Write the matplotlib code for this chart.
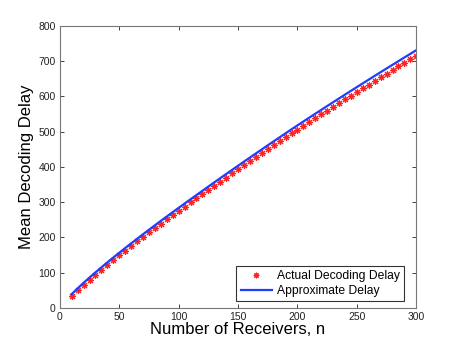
import matplotlib
matplotlib.use('Agg')
from matplotlib import pyplot as plt

plt.rcParams['font.family'] = ['Liberation Sans', 'DejaVu Sans']

receivers = [10, 15, 20, 25, 30, 35, 40, 45, 50, 55, 60, 65, 70, 75, 80, 85, 90, 95, 100,
             105, 110, 115, 120, 125, 130, 135, 140, 145, 150, 155, 160, 165, 170, 175, 180,
             185, 190, 195, 200, 205, 210, 215, 220, 225, 230, 235, 240, 245, 250, 255, 260,
             265, 270, 275, 280, 285, 290, 295, 300]

actual_delay = [33.8, 50.0, 65.4, 80.3, 94.7, 108.9, 122.7, 136.3, 149.6, 162.9, 175.9, 188.7,
                201.4, 214.1, 226.5, 238.9, 251.1, 263.4, 275.4, 287.4, 299.3, 311.3, 323.1,
                334.9, 346.6, 358.4, 370.0, 381.6, 393.1, 404.7, 416.1, 427.5, 438.8, 450.2,
                461.4, 472.6, 483.7, 494.9, 505.9, 516.8, 527.6, 538.5, 549.2, 559.9, 570.5,
                581.2, 591.8, 602.3, 612.8, 623.3, 633.7, 644.1, 654.4, 664.8, 675.0, 685.2,
                695.4, 705.6, 715.7]

approx_delay = [39.2, 55.5, 71.1, 86.2, 100.8, 115.1, 129.1, 142.9, 156.4, 169.8, 183.0, 196.0,
                208.9, 221.7, 234.3, 246.9, 259.3, 271.7, 283.9, 296.1, 308.2, 320.3, 332.3,
                344.3, 356.2, 368.1, 379.9, 391.7, 403.4, 415.1, 426.7, 438.3, 449.8, 461.3,
                472.7, 484.1, 495.4, 506.7, 517.9, 529.0, 540.0, 551.0, 561.9, 572.8, 583.6,
                594.4, 605.2, 615.9, 626.6, 637.2, 647.8, 658.4, 668.9, 679.4, 689.8, 700.2,
                710.6, 720.9, 731.2]

fig = plt.figure(figsize=(4.6, 3.46), dpi=100)
ax = fig.add_axes([0.13, 0.11, 0.775, 0.815])

ax.plot(receivers, actual_delay, linestyle='none', marker=(8, 2, 0), markersize=5,
        markeredgewidth=0.8, color='#ff2020', label='Actual Decoding Delay')
ax.plot(receivers, approx_delay, color='#1f3cff', linewidth=1.6, label='Approximate Delay')

ax.set_xlim(0, 300)
ax.set_ylim(0, 800)
ax.set_xticks(range(0, 301, 50))
ax.set_yticks(range(0, 801, 100))
ax.tick_params(direction='in', length=3, width=0.6, labelsize=7.5, colors='#222222',
               top=True, right=True, pad=3)
for s in ax.spines.values():
    s.set_color('#777777')
    s.set_linewidth(0.8)

ax.set_xlabel('Number of Receivers, n', fontsize=12, labelpad=0)
ax.set_ylabel('Mean Decoding Delay', fontsize=12, labelpad=3)

# legend box placed like the original (lower right, inset)
leg = ax.legend(loc='lower right', bbox_to_anchor=(404 / 460, 45 / 346),
                bbox_transform=fig.transFigure, borderaxespad=0,
                fontsize=8.7, fancybox=False, edgecolor='black',
                handlelength=2.6, handletextpad=0.4,
                labelspacing=0.2, borderpad=0.35, numpoints=1, markerscale=0.8)
leg.get_frame().set_linewidth(0.8)

plt.savefig('out.png', dpi=100)
